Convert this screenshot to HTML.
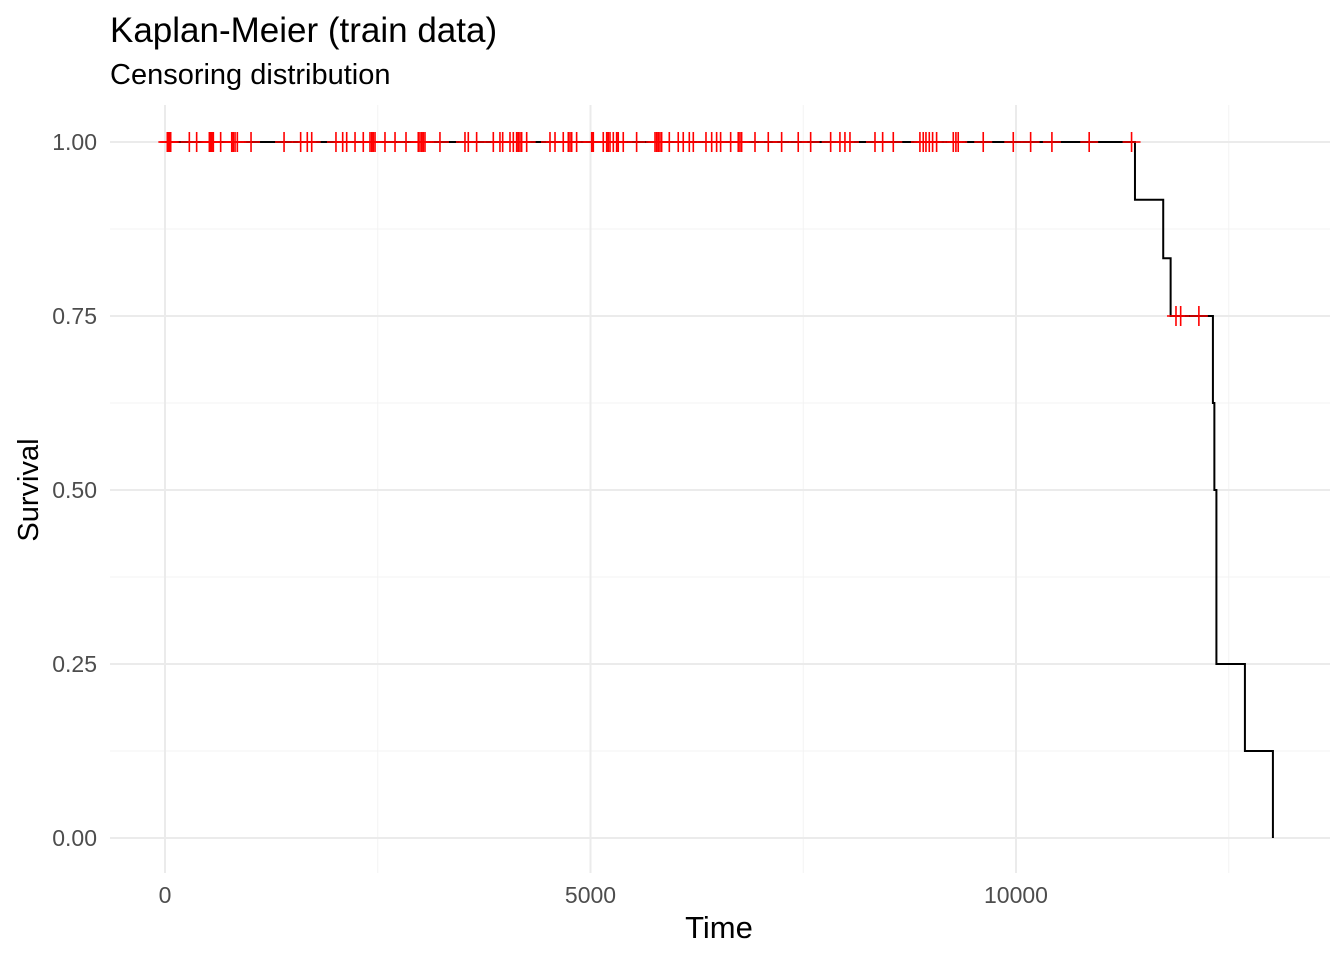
<!DOCTYPE html>
<html><head><meta charset="utf-8"><style>
body{margin:0;background:#fff}
text{font-family:"Liberation Sans",sans-serif}
</style></head><body>
<svg id="c" width="1344" height="960" xmlns="http://www.w3.org/2000/svg">
<text x="110" y="42" font-size="35">Kaplan-Meier (train data)</text>
<text x="110" y="84" font-size="29">Censoring distribution</text>
<text x="719" y="938" font-size="31" text-anchor="middle">Time</text>
<text transform="translate(38,490) rotate(-90)" font-size="29" text-anchor="middle">Survival</text>
<g id="grid"></g><g id="curve"></g><g id="marks"></g><g id="ticks"></g>
</svg>
<script>
const xTicks=[0,5000,10000];
const xMinor=[2500,7500,12500];
const yTicks=[0,0.25,0.5,0.75,1];
const yTickLabels=["0.00","0.25","0.50","0.75","1.00"];
const yMinor=[0.125,0.375,0.625,0.875];
const stepTimes=[0,11398,11730,11817,12314,12331,12355,12690,13019];
const stepSurv=[1,0.917,0.833,0.75,0.625,0.5,0.25,0.125,0];
const censorTimes=[27,39,51,67,286,372,521,537,552,568,654,784,803,823,850,1011,1399,1594,1672,1724,2009,2088,2135,2233,2330,2409,2429,2448,2468,2585,2703,2832,2976,2996,3016,3035,3055,3231,3525,3564,3662,3858,3936,3968,4054,4093,4132,4151,4171,4191,4250,4524,4583,4680,4739,4759,4779,4837,5014,5033,5150,5190,5209,5229,5268,5307,5326,5385,5542,5758,5777,5796,5816,5836,5926,6031,6090,6161,6208,6357,6424,6482,6529,6647,6736,6756,6776,6933,7089,7246,7441,7587,7822,7931,7990,8049,8343,8433,8558,8871,8910,8942,8981,9020,9067,9263,9294,9321,9615,9968,10172,10422,10860,11358,11880,11935,12149];
const censorSurv=censorTimes.map(t=>t<11398?1:0.75);
const X=t=>165+t*0.0851, Y=s=>838-s*696;
const NS="http://www.w3.org/2000/svg";
function mk(p,tag,a){const e=document.createElementNS(NS,tag);for(const k in a)e.setAttribute(k,a[k]);p.appendChild(e);return e;}
const g=document.getElementById('grid'),cv=document.getElementById('curve'),m=document.getElementById('marks'),tk=document.getElementById('ticks');
xMinor.forEach(v=>{const l=mk(g,'line',{x1:X(v),x2:X(v),y1:105,y2:873,stroke:'#f3f3f3','stroke-width':1});

});
yMinor.forEach(v=>{const l=mk(g,'line',{x1:110,x2:1330,y1:Y(v),y2:Y(v),stroke:'#f3f3f3','stroke-width':1});

});
xTicks.forEach(v=>{const l=mk(g,'line',{x1:X(v),x2:X(v),y1:105,y2:873,stroke:'#ebebeb','stroke-width':2});


const t=mk(tk,'text',{x:X(v),y:903,'font-size':23,fill:'#4d4d4d','text-anchor':'middle'});t.textContent=v;

});
yTicks.forEach((v,i)=>{const l=mk(g,'line',{x1:110,x2:1330,y1:Y(v),y2:Y(v),stroke:'#ebebeb','stroke-width':2});


const t=mk(tk,'text',{x:97,y:Y(v)+8,'font-size':23,fill:'#4d4d4d','text-anchor':'end'});t.textContent=yTickLabels[i];

});
let d='M'+X(stepTimes[0])+','+Y(stepSurv[0]);
for(let i=1;i<stepTimes.length;i++){d+=' H'+X(stepTimes[i])+' V'+Y(stepSurv[i]);}
const p=mk(cv,'path',{d:d,fill:'none',stroke:'#000','stroke-width':2});


censorTimes.forEach((t,i)=>{const x=X(t),y=Y(censorSurv[i]);
const c=mk(m,'path',{d:`M${x-9},${y}H${x+9}M${x},${y-10}V${y+10}`,stroke:'#ff0000','stroke-width':1.6,fill:'none'});

});
</script>
</body></html>
